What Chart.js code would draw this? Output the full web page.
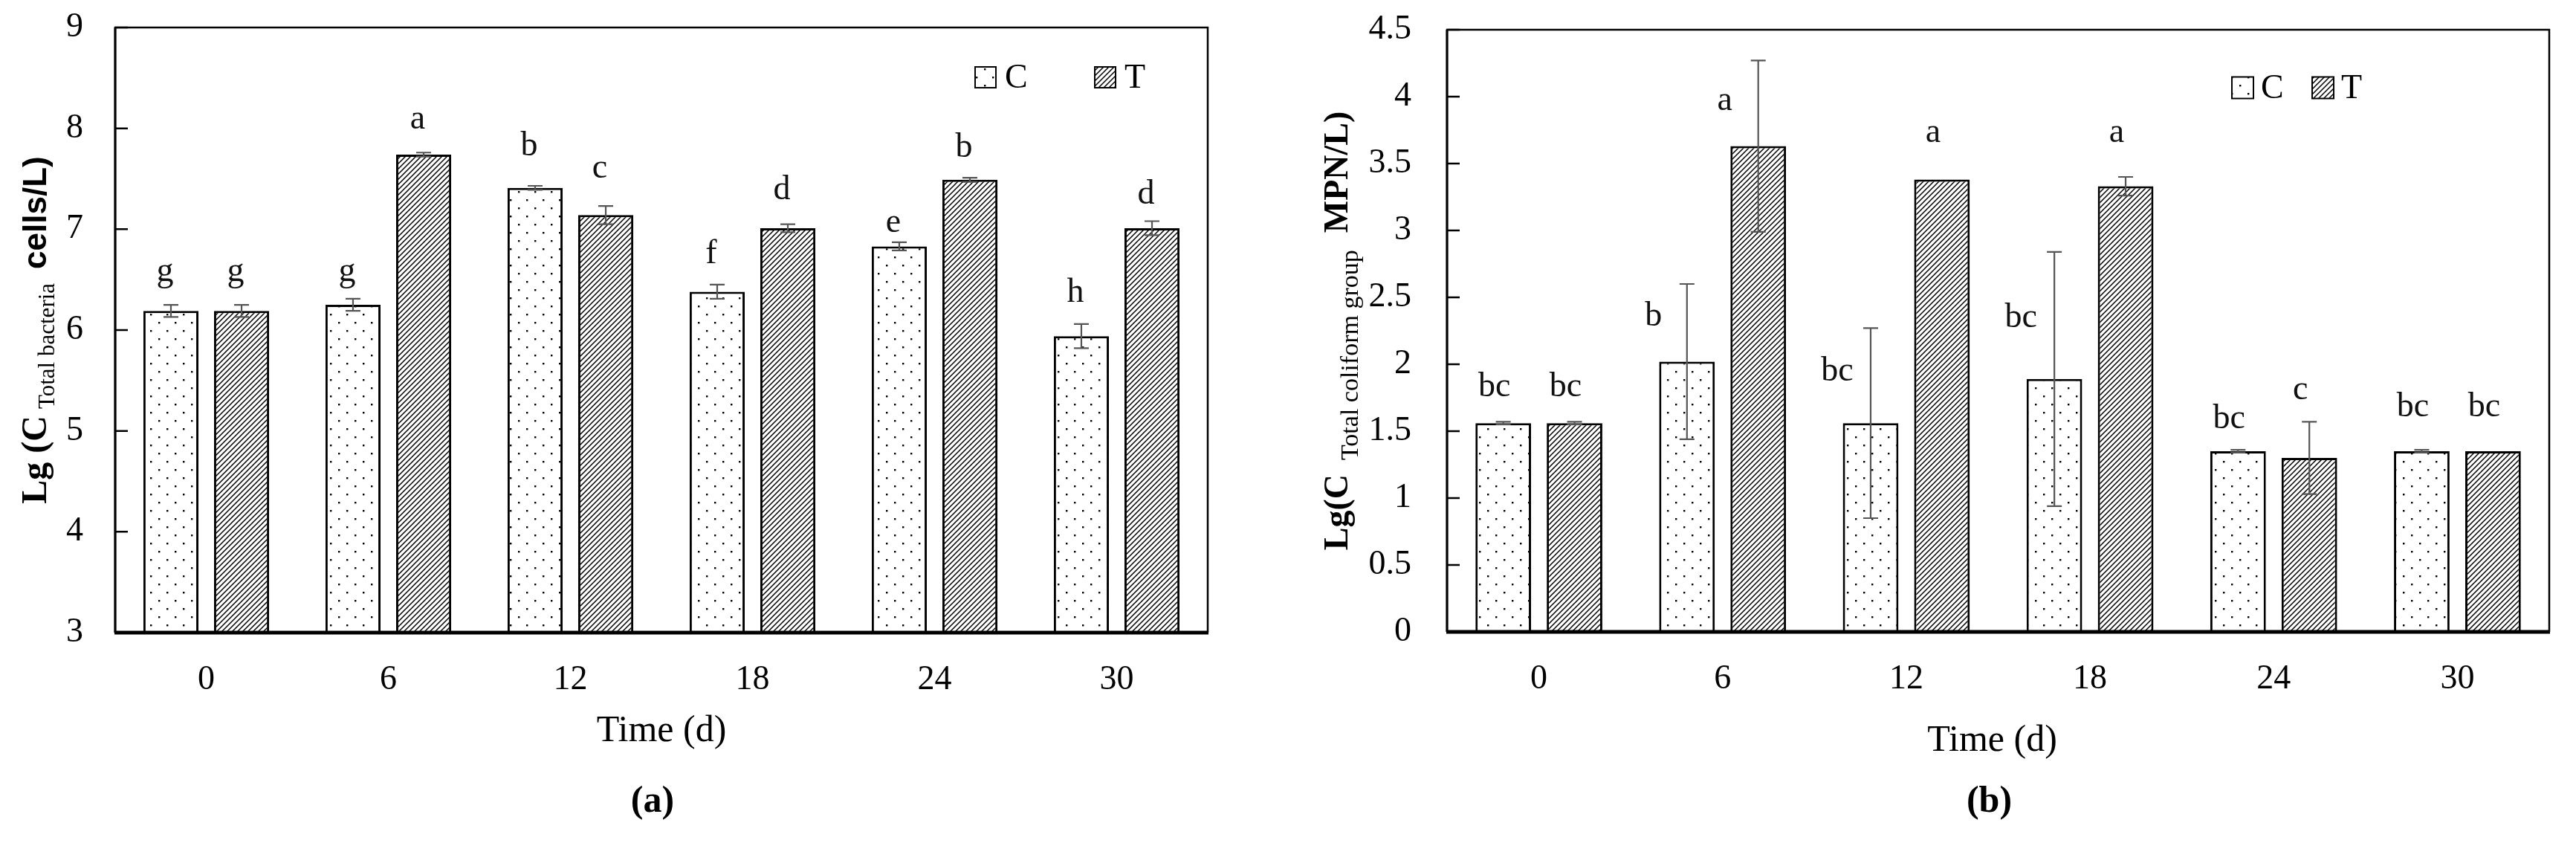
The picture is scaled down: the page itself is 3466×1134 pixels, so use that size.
<!DOCTYPE html>
<html><head><meta charset="utf-8">
<script src="https://cdn.jsdelivr.net/npm/chart.js@4/dist/chart.umd.min.js"></script>
<style>
html,body{margin:0;padding:0;background:#fff;width:3466px;height:1134px;overflow:hidden}
.w{position:absolute;top:0;width:1733px;height:1134px}
#wa{left:0}
#wb{left:1733px}
</style></head><body>
<div class="w" id="wa"><canvas id="ca"></canvas></div>
<div class="w" id="wb"><canvas id="cb"></canvas></div>
<script>
// ---------- data ----------
const days = ['0','6','12','18','24','30'];
const seriesNames = ['C','T'];

// panel (a): Lg(C Total bacteria cells/L)
const aC     = [6.19, 6.25, 7.41, 6.38, 6.83, 5.94];
const aCErr  = [0.06, 0.06, 0.02, 0.07, 0.04, 0.12];
const aT     = [6.19, 7.74, 7.14, 7.01, 7.49, 7.01];
const aTErr  = [0.06, 0.02, 0.09, 0.04, 0.02, 0.07];
const aCLetters = ['g','g','b','f','e','h'];
const aTLetters = ['g','a','c','d','b','d'];
const aCLetterY = [6.49, 6.49, 7.73, 6.66, 6.97, 6.28];
const aTLetterY = [6.49, 8.00, 7.51, 7.30, 7.72, 7.25];
const aTicks = [3,4,5,6,7,8,9];

// panel (b): Lg(C Total coliform group MPN/L)
const bC     = [1.56, 2.02, 1.56, 1.89, 1.35, 1.35];
const bCErr  = [0.01, 0.58, 0.71, 0.95, 0.01, 0.01];
const bT     = [1.56, 3.63, 3.38, 3.33, 1.30, 1.35];
const bTErr  = [0.01, 0.64, 0.00, 0.07, 0.27, 0.00];
const bCLetters = ['bc','b','bc','bc','bc','bc'];
const bTLetters = ['bc','a','a','a','c','bc'];
const bCLetterY = [1.76, 2.29, 1.88, 2.28, 1.52, 1.61];
const bTLetterY = [1.76, 3.90, 3.66, 3.66, 1.74, 1.61];
const bTicks = [0,0.5,1,1.5,2,2.5,3,3.5,4,4.5];

// ---------- patterns ----------
const SERIF = "'Liberation Serif','Times New Roman',serif";
const SANS = "'Liberation Sans',Arial,sans-serif";
function tile(w,h,draw){
  const c=document.createElement('canvas'); c.width=w; c.height=h;
  const g=c.getContext('2d'); g.fillStyle='#fff'; g.fillRect(0,0,w,h); draw(g);
  return document.createElement('canvas').getContext('2d').createPattern(c,'repeat');
}
const dotPat = tile(22,22,g=>{ g.fillStyle='#000'; g.fillRect(4,4,2.4,2.4); g.fillRect(15,15,2.4,2.4); });
const hatchPat = tile(7,7,g=>{
  g.strokeStyle='#000'; g.lineWidth=1.5; g.beginPath();
  g.moveTo(-1,8); g.lineTo(8,-1);
  g.moveTo(-4.5,4.5); g.lineTo(4.5,-4.5);
  g.moveTo(2.5,11.5); g.lineTo(11.5,2.5);
  g.stroke();
});

// ---------- decoration plugin ----------
const decor = {
  id:'decor',
  afterDatasetsDraw(chart,args,o){
    const ctx=chart.ctx, ys=chart.scales.y;
    ctx.save();
    // error bars
    ctx.strokeStyle='#555'; ctx.lineWidth=2.2;
    chart.data.datasets.forEach((ds,di)=>{
      chart.getDatasetMeta(di).data.forEach((bar,i)=>{
        const v=ds.data[i], e=o.err[di][i];
        if(!e) return;
        const yt=ys.getPixelForValue(v+e), yb=ys.getPixelForValue(v-e);
        ctx.beginPath();
        ctx.moveTo(bar.x,yt); ctx.lineTo(bar.x,yb);
        ctx.moveTo(bar.x-10,yt); ctx.lineTo(bar.x+10,yt);
        ctx.moveTo(bar.x-10,yb); ctx.lineTo(bar.x+10,yb);
        ctx.stroke();
      });
    });
    // significance letters
    ctx.fillStyle='#111'; ctx.font='46px '+SERIF; ctx.textAlign='center'; ctx.textBaseline='alphabetic';
    chart.data.datasets.forEach((ds,di)=>{
      chart.getDatasetMeta(di).data.forEach((bar,i)=>{
        const ly=ys.getPixelForValue(o.letterY[di][i]);
        const et=ys.getPixelForValue(ds.data[i]+o.err[di][i]);
        let dx=o.letterDx;
        if(o.avoidDx && ly>et+4) dx=o.avoidDx;
        ctx.fillText(o.letters[di][i], bar.x+dx, ly);
      });
    });
    ctx.restore();
  },
  afterDraw(chart,args,o){
    const ctx=chart.ctx, ca=chart.chartArea, ys=chart.scales.y;
    ctx.save();
    // frame
    ctx.strokeStyle='#000';
    ctx.lineWidth=2.5; ctx.beginPath();
    ctx.moveTo(ca.left,ca.bottom); ctx.lineTo(ca.left,ca.top); ctx.lineTo(ca.right,ca.top); ctx.lineTo(ca.right,ca.bottom);
    ctx.stroke();
    ctx.lineWidth=3; ctx.beginPath(); ctx.moveTo(ca.left,ca.bottom); ctx.lineTo(ca.left,ca.top); ctx.stroke();
    ctx.lineWidth=5; ctx.beginPath(); ctx.moveTo(ca.left-1,ca.bottom); ctx.lineTo(ca.right+1,ca.bottom); ctx.stroke();
    // inner y ticks
    ctx.lineWidth=2.5; ctx.beginPath();
    ys.ticks.forEach(t=>{ const p=ys.getPixelForValue(t.value); ctx.moveTo(ca.left,p); ctx.lineTo(ca.left+17,p); });
    ctx.stroke();
    // legend
    const lg=o.legend;
    chart.data.datasets.forEach((ds,di)=>{
      const bx=lg.x[di];
      ctx.fillStyle=ds.backgroundColor; ctx.fillRect(bx,lg.y-lg.size/2,lg.size,lg.size);
      ctx.lineWidth=2; ctx.strokeStyle='#000'; ctx.strokeRect(bx,lg.y-lg.size/2,lg.size,lg.size);
      ctx.fillStyle='#000'; ctx.font='46px '+SERIF; ctx.textAlign='left'; ctx.textBaseline='middle';
      ctx.fillText(ds.label,bx+lg.size+lg.gap,lg.y+2);
    });
    // x title and panel label
    const cx=(ca.left+ca.right)/2;
    ctx.fillStyle='#000'; ctx.textAlign='center'; ctx.textBaseline='middle';
    ctx.font='50px '+SERIF; ctx.fillText(o.xTitle,cx+o.xTitleDx,o.xTitleY);
    ctx.font='bold 50px '+SERIF; ctx.fillText(o.panel,cx+o.panelDx,o.panelY);
    // rotated y title (rich text)
    const segs=o.yTitle;
    let total=0;
    segs.forEach(s=>{ ctx.font=s.font; s.w=ctx.measureText(s.text).width; total+=s.w+(s.gap||0); });
    const cy=(ca.top+ca.bottom)/2;
    ctx.translate(o.yTitleX,cy); ctx.rotate(-Math.PI/2);
    ctx.textAlign='left'; ctx.textBaseline='alphabetic';
    let x=-total/2;
    segs.forEach(s=>{ ctx.font=s.font; ctx.fillText(s.text,x,s.dy||0); x+=s.w+(s.gap||0); });
    ctx.restore();
  }
};

function makeChart(id,cfg){
  return new Chart(document.getElementById(id),{
    type:'bar',
    data:{labels:days,datasets:[
      {label:seriesNames[0],data:cfg.c,backgroundColor:dotPat,borderColor:'#000',borderWidth:3},
      {label:seriesNames[1],data:cfg.t,backgroundColor:hatchPat,borderColor:'#000',borderWidth:3}
    ]},
    options:{
      responsive:true,maintainAspectRatio:false,animation:false,devicePixelRatio:1,
      layout:{padding:{left:0,right:cfg.padR,top:cfg.padT,bottom:0}},
      datasets:{bar:{categoryPercentage:0.776,barPercentage:0.78}},
      plugins:{legend:{display:false},tooltip:{enabled:false},decor:cfg.decor},
      scales:{
        x:{grid:{display:false,drawTicks:false},border:{display:false},
           ticks:{font:{family:SERIF,size:46},color:'#000',padding:36},
           afterFit:s=>{s.height=cfg.xH; s.paddingLeft=0; s.paddingRight=0;}},
        y:{min:cfg.min,max:cfg.max,grid:{display:false,drawTicks:false},border:{display:false},
           ticks:{font:{family:SERIF,size:46},color:'#000',padding:cfg.yPad,callback:v=>String(v)},
           afterBuildTicks:s=>{s.ticks=cfg.ticks.map(v=>({value:v}));},
           afterFit:s=>{s.width=cfg.yW; s.paddingTop=0; s.paddingBottom=0;}}
      }
    },
    plugins:[decor]
  });
}

makeChart('ca',{
  c:aC,t:aT,min:3,max:9,ticks:aTicks,padR:108,padT:37,xH:283,yW:155,yPad:43,
  decor:{
    err:[aCErr,aTErr],letters:[aCLetters,aTLetters],letterY:[aCLetterY,aTLetterY],letterDx:-8,
    legend:{x:[1312,1473],y:104,size:28,gap:12},
    xTitle:'Time (d)',xTitleY:984,xTitleDx:0,panel:'(a)',panelY:1079,panelDx:-12,
    yTitleX:62,
    yTitle:[
      {text:'Lg (C',font:'bold 48px '+SERIF,gap:9},
      {text:'Total bacteria',font:'31px '+SERIF,dy:11,gap:19},
      {text:'cells/L)',font:'bold 44px '+SANS}
    ]
  }
});

makeChart('cb',{
  c:bC,t:bT,min:0,max:4.5,ticks:bTicks,padR:36,padT:40,xH:284,yW:214,yPad:48,
  decor:{
    err:[bCErr,bTErr],letters:[bCLetters,bTLetters],letterY:[bCLetterY,bTLetterY],letterDx:-12,avoidDx:-45,
    legend:{x:[1270,1378],y:118,size:29,gap:10},
    xTitle:'Time (d)',xTitleY:997,xTitleDx:-8,panel:'(b)',panelY:1079,panelDx:-12,
    yTitleX:80,
    yTitle:[
      {text:'Lg(C',font:'bold 46px '+SERIF,gap:19},
      {text:'Total coliform group',font:'34px '+SERIF,dy:14,gap:23},
      {text:'MPN/L)',font:'bold 46px '+SERIF}
    ]
  }
});
</script>
</body></html>
